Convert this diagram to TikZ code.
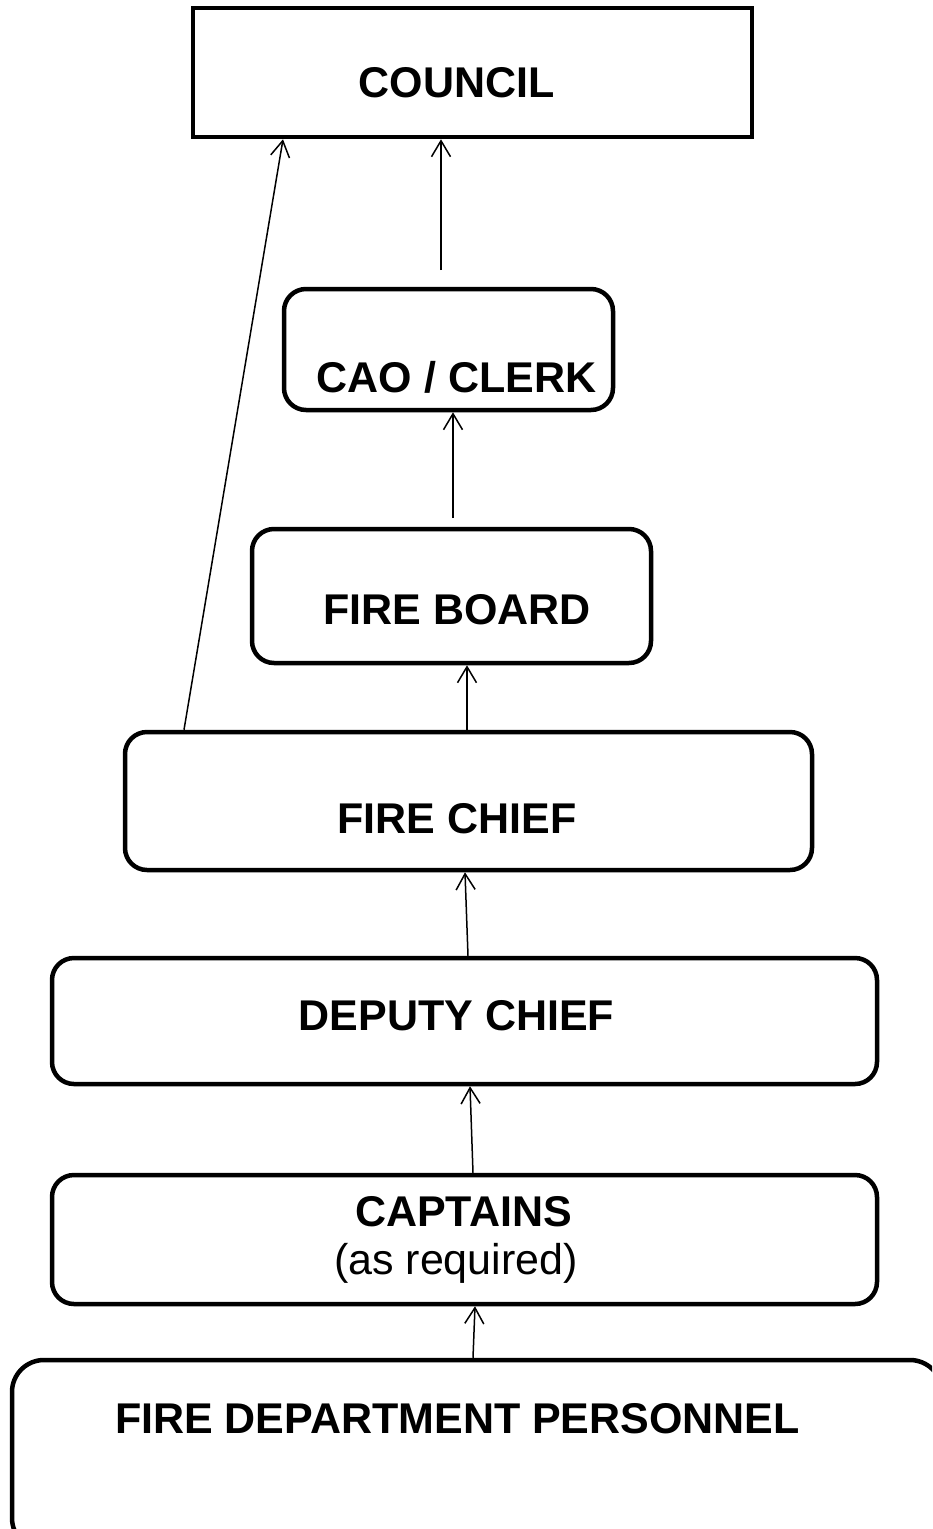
\documentclass[tikz,border=0pt]{standalone}
\usepackage{fontspec}
\setmainfont{Liberation Sans}
\usetikzlibrary{arrows.meta}
\tikzset{
  x=1pt, y=-1pt,
  box/.style={draw, line width=4.5pt, rounded corners=22pt, inner sep=0pt, minimum width=#1},
  sharpbox/.style={draw, line width=4.5pt, inner sep=0pt},
  lbl/.style={anchor=base, inner sep=0pt, font=\fontsize{43}{50}\selectfont\bfseries},
  lblr/.style={anchor=base, inner sep=0pt, font=\fontsize{43}{50}\selectfont},
  arr/.style={line width=1.5pt, -{Straight Barb[length=16pt, width=19pt]}}
}
\begin{document}
\begin{tikzpicture}
\useasboundingbox (0,0) rectangle (932,1529);
\clip (0,0) rectangle (932,1529);
% boxes
\node[sharpbox, minimum width=559pt, minimum height=129pt] (council) at (472.5,72.5) {};
\node[box=329pt, minimum height=121pt] (cao) at (448.5,349.5) {};
\node[box=399pt, minimum height=134pt] (board) at (451.5,596) {};
\node[box=687pt, minimum height=138pt] (chief) at (468.5,801) {};
\node[box=825pt, minimum height=126pt] (deputy) at (464.5,1021) {};
\node[box=825pt, minimum height=129pt] (captains) at (464.5,1239.5) {};
\node[box=930pt, minimum height=190pt, rounded corners=32pt] (personnel) at (477,1455) {};
% labels
\node[lbl] (tcouncil) at (456.5,97) {COUNCIL};
\node[lbl] (tcao) at (456.5,392) {CAO / CLERK};
\node[lbl] (tboard) at (457,624) {FIRE BOARD};
\node[lbl] (tchief) at (457,833) {FIRE CHIEF};
\node[lbl] (tdeputy) at (456.5,1030) {DEPUTY CHIEF};
\node[lbl] (tcapt) at (463.5,1226) {CAPTAINS};
\node[lblr] (treq) at (456,1274) {(as required)};
\node[lbl] (tpers) at (457.5,1433) {FIRE DEPARTMENT PERSONNEL};
% connectors
\coordinate (s1) at (441,270);
\coordinate (s2) at (453,518);
\draw[arr] (s1) -- (s1 |- council.south);
\draw[arr] (s2) -- (s2 |- cao.south);
\draw[arr] ([xshift=-1.5pt]chief.north) -- ([xshift=15.5pt]board.south);
\draw[arr] ([xshift=-284.5pt]chief.north) -- ([xshift=-189.5pt]council.south);
\draw[arr] ([xshift=3.5pt]deputy.north) -- ([xshift=-3.5pt]chief.south);
\draw[arr] ([xshift=8.5pt]captains.north) -- ([xshift=5.5pt]deputy.south);
\draw[arr] (473,0 |- personnel.north) -- ([xshift=10.5pt]captains.south);
\end{tikzpicture}
\end{document}
